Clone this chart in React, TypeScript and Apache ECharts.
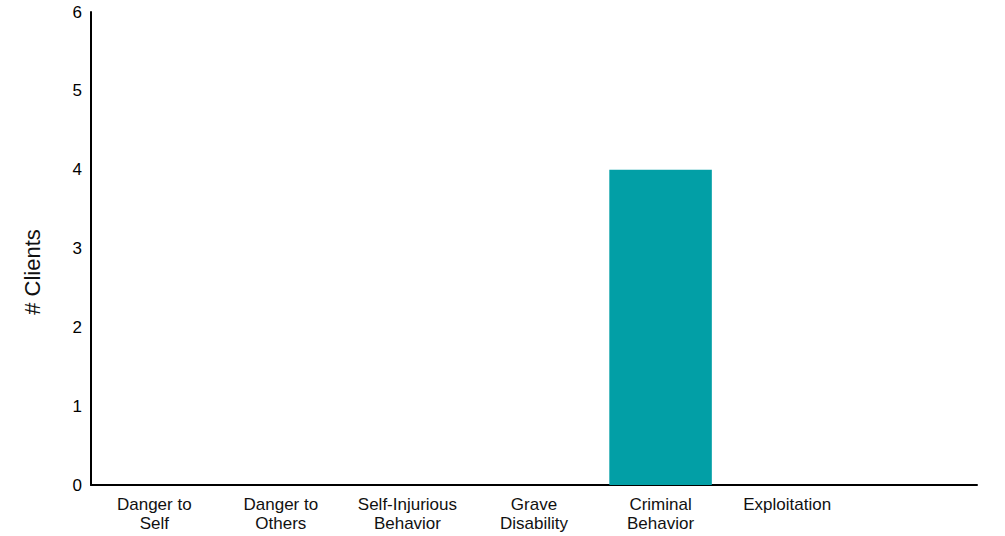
import React, { useEffect, useRef } from "react";
import * as echarts from "echarts";

const categories = [
  "Danger to\nSelf",
  "Danger to\nOthers",
  "Self-Injurious\nBehavior",
  "Grave\nDisability",
  "Criminal\nBehavior",
  "Exploitation",
  "",
];
const clients = [0, 0, 0, 0, 4, 0, null];
const yTicks = [0, 1, 2, 3, 4, 5, 6];
const yTitle = "# Clients";

export default function App() {
  const ref = useRef<HTMLDivElement>(null);
  useEffect(() => {
    document.body.style.margin = "0";
    const chart = echarts.init(ref.current!, null, { renderer: "svg" });
    const font = "'Liberation Sans', Arial, sans-serif";
    chart.setOption({
      animation: false,
      backgroundColor: "#ffffff",
      grid: { left: 91, right: 28, top: 12, bottom: 51, containLabel: false },
      graphic: [
        {
          type: "text",
          x: 32,
          y: 272,
          rotation: Math.PI / 2,
          style: {
            text: yTitle,
            fill: "#111",
            font: `22px ${font}`,
            align: "center",
            verticalAlign: "middle",
          },
        },
      ],
      xAxis: {
        type: "category",
        data: categories,
        axisLine: { lineStyle: { color: "#000", width: 2 } },
        axisTick: { show: false },
        axisLabel: {
          color: "#111",
          fontFamily: font,
          fontSize: 17,
          lineHeight: 19,
          margin: 10,
          interval: 0,
        },
      },
      yAxis: {
        type: "value",
        min: yTicks[0],
        max: yTicks[yTicks.length - 1],
        interval: 1,
        axisLine: { show: true, lineStyle: { color: "#000", width: 2 } },
        axisTick: { show: false },
        splitLine: { show: false },
        axisLabel: { color: "#000", fontFamily: font, fontSize: 17, margin: 9 },
      },
      series: [
        {
          type: "bar",
          data: clients,
          barWidth: "81%",
          itemStyle: { color: "#029FA6" },
        },
      ],
    });
    return () => chart.dispose();
  }, []);
  return <div ref={ref} style={{ width: 1005, height: 536 }} />;
}
